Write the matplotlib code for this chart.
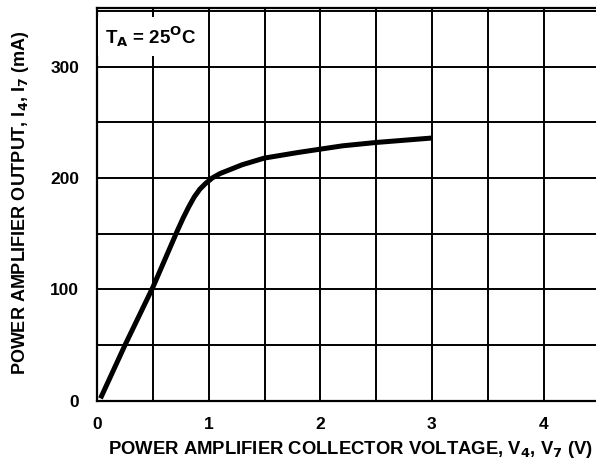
import matplotlib.pyplot as plt
import numpy as np

# collector voltage (V) vs output current (mA)
voltage = [0.03, 0.25, 0.5, 0.72, 0.77, 0.82, 0.87, 0.92, 0.97, 1.03, 1.1, 1.3, 1.5, 1.8, 2.2, 2.5, 3.0]
current = [2, 50, 102, 153, 164, 174, 183, 190, 195, 200, 204, 212, 218, 223, 229, 232, 236]

x_ticks = [0, 1, 2, 3, 4]
y_ticks = [0, 100, 200, 300]

plt.rcParams['font.family'] = ['Liberation Sans', 'DejaVu Sans']
plt.rcParams['font.weight'] = 'bold'
plt.rcParams['mathtext.default'] = 'bf'

fig = plt.figure(figsize=(5.96, 4.61), dpi=100)
ax = fig.add_axes([0.163, 0.131, 0.837, 0.852])

ax.set_xlim(0, 4.47)
ax.set_ylim(0, 353)
ax.set_xticks(np.arange(0, 4.5, 0.5), minor=True)
ax.set_yticks(np.arange(0, 351, 50), minor=True)
ax.set_xticks(x_ticks)
ax.set_yticks(y_ticks)
ax.grid(which='both', color='black', linewidth=1.4)
ax.tick_params(which='both', length=0, labelsize=12.5)
ax.tick_params(axis='x', pad=12)
ax.tick_params(axis='y', pad=13)
for lab in ax.get_xticklabels() + ax.get_yticklabels():
    lab.set_fontweight('bold')

for side in ['top', 'left', 'bottom']:
    ax.spines[side].set_linewidth(1.6)
ax.spines['right'].set_visible(False)

ax.plot(voltage, current, color='black', linewidth=3.6, solid_capstyle='butt',
        solid_joinstyle='round', zorder=3)

ax.text(0.07, 327, r'T$_\mathbf{A}$ = 25$^\mathbf{O}$C', fontsize=13.5, fontweight='bold',
        va='center', ha='left', zorder=4,
        bbox=dict(facecolor='white', edgecolor='none', pad=5))

ax.set_xlabel(r'POWER AMPLIFIER COLLECTOR VOLTAGE, V$_\mathbf{4}$, V$_\mathbf{7}$ (V)',
              fontsize=13.3, fontweight='bold')
ax.set_ylabel(r'POWER AMPLIFIER OUTPUT, I$_\mathbf{4}$, I$_\mathbf{7}$ (mA)',
              fontsize=13, fontweight='bold')
ax.xaxis.set_label_coords(0.508, -0.097)
ax.yaxis.set_label_coords(-0.132, 0.505)

fig.savefig('out.png', dpi=100)
